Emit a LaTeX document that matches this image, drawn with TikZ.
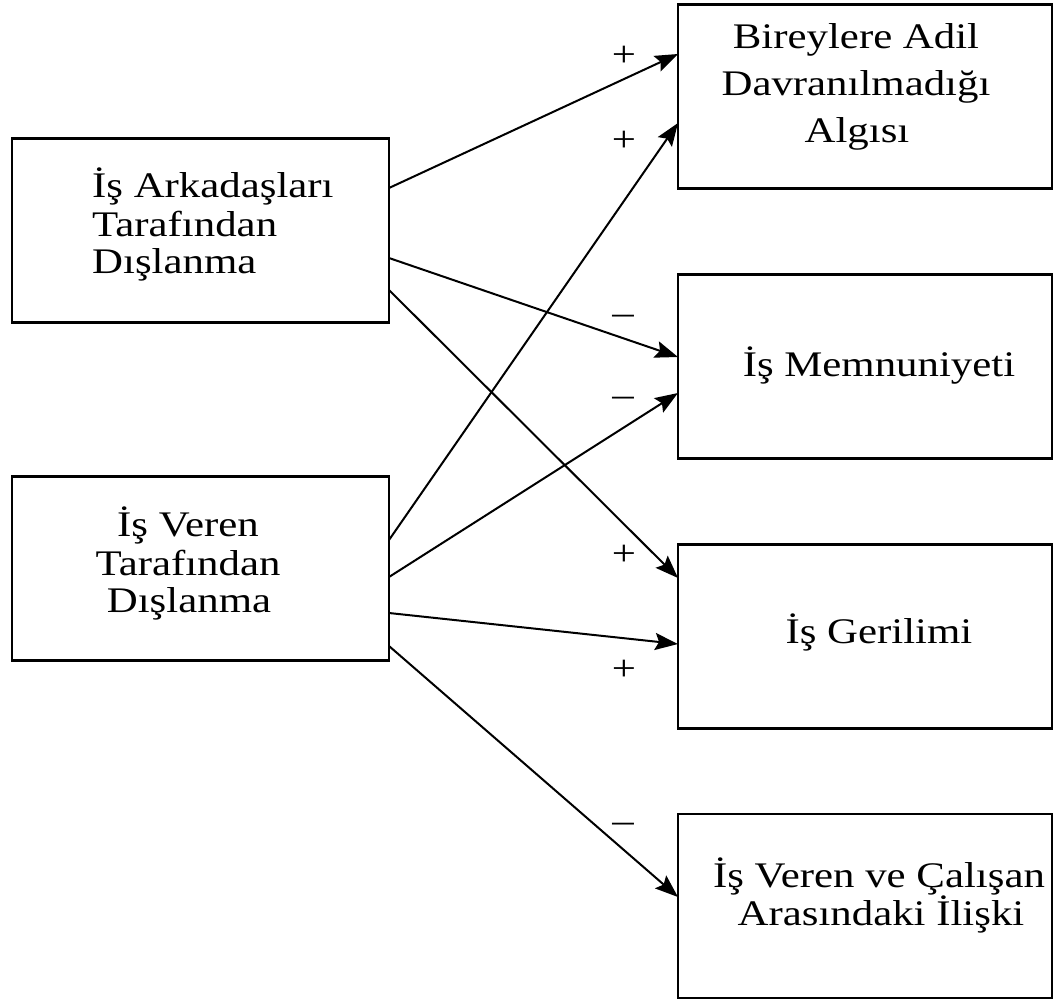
\documentclass[tikz,border=0pt]{standalone}
\usepackage{fontspec}
\setmainfont{Liberation Serif}[FakeStretch=1.19]
\usetikzlibrary{arrows.meta}
\begin{document}
\begin{tikzpicture}[x=1pt,y=-1pt,
  lbox/.style={draw=black, line width=2.2pt, minimum width=377pt, minimum height=184pt, inner sep=0pt, outer sep=0pt},
  rbox/.style={draw=black, line width=2.2pt, minimum width=374pt, minimum height=184pt, inner sep=0pt, outer sep=0pt},
  txt/.style={font=\fontsize{36}{42}\selectfont, inner sep=0pt, anchor=base},
  sign/.style={font=\fontsize{36}{42}\selectfont, inner sep=0pt, anchor=base},
  arr/.style={-{Stealth[length=23pt,width=17pt,inset=4pt]}, line width=2pt}]
\useasboundingbox (0,0) rectangle (1054,1001);
% boxes
\node[lbox] (b1) at (200.5,230.5) {};
\node[lbox] (b2) at (200.5,568.5) {};
\node[rbox] (bA) at (865,96.5) {};
\node[rbox] (bB) at (865,366.5) {};
\node[rbox] (bC) at (865,636.5) {};
\node[rbox] (bD) at (865,906) {};
% texts
\node[txt, anchor=base west] (t1a) at (92,197) {İş Arkadaşları};
\node[txt, anchor=base west] (t1b) at (92,236) {Tarafından};
\node[txt, anchor=base west] (t1c) at (92,273) {Dışlanma};
\node[txt] (t2a) at (188,536) {İş Veren};
\node[txt] (t2b) at (188,575) {Tarafından};
\node[txt] (t2c) at (189,612) {Dışlanma};
\node[txt] (tAa) at (856,48) {Bireylere Adil};
\node[txt] (tAb) at (856,95) {Davranılmadığı};
\node[txt] (tAc) at (857,142) {Algısı};
\node[txt] (tB) at (879,376) {İş Memnuniyeti};
\node[txt] (tC) at (879,643) {İş Gerilimi};
\node[txt] (tDa) at (879,887) {İş Veren ve Çalışan};
\node[txt] (tDb) at (881,925) {Arasındaki İlişki};
% arrows
\draw[arr] ([yshift=42.5pt]b1.east) -- ([yshift=42.5pt]bA.west);
\draw[arr] ([yshift=-27.5pt]b1.east) -- ([yshift=9.5pt]bB.west);
\draw[arr] ([yshift=-59.5pt]b1.east) -- ([yshift=58.5pt]bC.west);
\draw[arr] ([yshift=28.5pt]b2.east) -- ([yshift=-26.5pt]bA.west);
\draw[arr] ([yshift=-8.5pt]b2.east) -- ([yshift=-26.5pt]bB.west);
\draw[arr] ([yshift=-44.5pt]b2.east) -- ([yshift=-7.5pt]bC.west);
\draw[arr] ([yshift=-77.5pt]b2.east) -- ([yshift=9pt]bD.west);
% signs
\node[sign] (s1) at (624,66) {+};
\node[sign] (s2) at (624,151) {+};
\node[sign] (s3) at (623,324) {–};
\node[sign] (s4) at (623,406) {–};
\node[sign] (s5) at (624,565) {+};
\node[sign] (s6) at (624,680) {+};
\node[sign] (s7) at (623,832) {–};
\end{tikzpicture}
\end{document}
